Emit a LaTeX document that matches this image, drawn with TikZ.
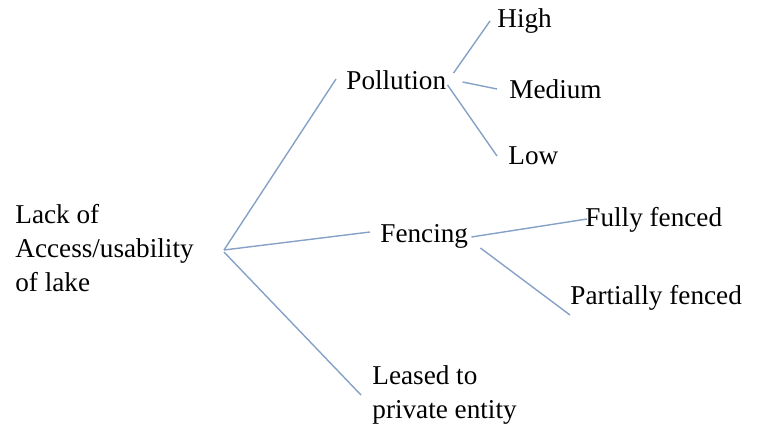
\documentclass[tikz,border=0pt]{standalone}
\usepackage{fontspec}
\setmainfont{Liberation Serif}
\usepackage{tikz}
\usetikzlibrary{positioning}
\definecolor{ramo}{RGB}{134,161,199}

\begin{document}
\begin{tikzpicture}[x=0.5pt,y=-0.5pt,
    term/.style={anchor=west,inner sep=0pt,align=left,font=\fontsize{13.6pt}{17pt}\selectfont},
    twig/.style={draw=ramo,line width=0.7pt}]
  \useasboundingbox (0,0) rectangle (761,428);
  \node[term] (root) at (15,248) {Lack of\\Access/usability\\of lake};
  \coordinate (j) at (224,250);
  \node[term] (pol) at (346,80) {Pollution};
  \node[term] (high) at (497,21) {High};
  \node[term] (med) at (509,89) {Medium};
  \node[term] (low) at (508,156) {Low};
  \node[term] (fen) at (380,236) {Fencing};
  \node[term] (full) at (585,220) {Fully fenced};
  \node[term] (part) at (570,298) {Partially fenced};
  \node[term] (lease) at (372,395) {Leased to\\private entity};
  % first level
  \draw[twig] (j) -- ([shift={(-10,-1)}]pol.west);
  \draw[twig] (j) -- ([shift={(-10,-4)}]fen.west);
  \draw[twig] ([shift={(0,2)}]j) -- ([shift={(-11,0)}]lease.west);
  % second level
  \draw[twig] ([shift={(7,-7)}]pol.east) -- ([shift={(-7,0)}]high.west);
  \draw[twig] ([shift={(16,2)}]pol.east) -- ([shift={(-12,0)}]med.west);
  \draw[twig] ([shift={(1,5)}]pol.east) -- ([shift={(-11,0)}]low.west);
  \draw[twig] ([shift={(3,1)}]fen.east) -- ([shift={(2,-1)}]full.west);
  \draw[twig] ([shift={(12,12)}]fen.east) -- ([shift={(0,17)}]part.west);
\end{tikzpicture}
\end{document}
